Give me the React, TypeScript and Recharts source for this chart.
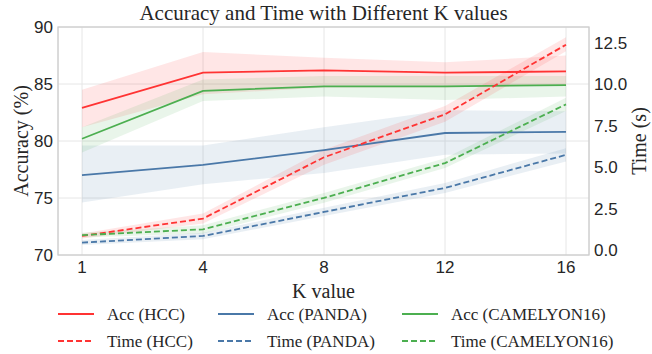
import React from 'react';
import { ComposedChart, Line, Area, XAxis, YAxis, CartesianGrid } from 'recharts';

// K values on the x axis
const kValues = [1, 4, 8, 12, 16];

// accuracy (%) - left axis
const accHcc = [82.9, 86.0, 86.2, 86.0, 86.1];
const accHccLo = [81.2, 84.1, 84.7, 84.7, 84.9];
const accHccHi = [84.5, 87.8, 87.3, 86.9, 87.5];

const accPanda = [77.0, 77.9, 79.2, 80.7, 80.8];
const accPandaLo = [74.6, 76.2, 77.2, 78.8, 78.9];
const accPandaHi = [79.6, 79.6, 81.2, 82.7, 82.6];

const accCam = [80.2, 84.4, 84.8, 84.8, 84.9];
const accCamLo = [79.0, 83.5, 83.9, 83.6, 83.9];
const accCamHi = [81.2, 85.4, 85.7, 85.7, 85.7];

// time (s) - right axis
const timeHcc = [0.85, 1.9, 5.6, 8.2, 12.4];
const timeHccLo = [0.7, 1.6, 5.15, 7.75, 12.0];
const timeHccHi = [1.0, 2.2, 6.05, 8.7, 12.85];

const timePanda = [0.45, 0.85, 2.3, 3.75, 5.75];
const timePandaLo = [0.3, 0.65, 2.05, 3.45, 5.35];
const timePandaHi = [0.6, 1.05, 2.55, 4.05, 6.15];

const timeCam = [0.9, 1.25, 3.15, 5.25, 8.8];
const timeCamLo = [0.75, 1.0, 2.85, 4.95, 8.4];
const timeCamHi = [1.05, 1.5, 3.45, 5.55, 9.2];

const accTicks = [70, 75, 80, 85, 90];
const timeTicks = [0, 2.5, 5, 7.5, 10, 12.5];

const RED = '#ff3333';
const BLUE = '#4a78a8';
const GREEN = '#4caf50';

const data = kValues.map((k, i) => ({
  k,
  accHcc: accHcc[i],
  accHccBand: [accHccLo[i], accHccHi[i]],
  accPanda: accPanda[i],
  accPandaBand: [accPandaLo[i], accPandaHi[i]],
  accCam: accCam[i],
  accCamBand: [accCamLo[i], accCamHi[i]],
  timeHcc: timeHcc[i],
  timeHccBand: [timeHccLo[i], timeHccHi[i]],
  timePanda: timePanda[i],
  timePandaBand: [timePandaLo[i], timePandaHi[i]],
  timeCam: timeCam[i],
  timeCamBand: [timeCamLo[i], timeCamHi[i]],
}));

const series = [
  { key: 'accHcc', name: 'Acc (HCC)', color: RED, axis: 'left', dashed: false },
  { key: 'accPanda', name: 'Acc (PANDA)', color: BLUE, axis: 'left', dashed: false },
  { key: 'accCam', name: 'Acc (CAMELYON16)', color: GREEN, axis: 'left', dashed: false },
  { key: 'timeHcc', name: 'Time (HCC)', color: RED, axis: 'right', dashed: true },
  { key: 'timePanda', name: 'Time (PANDA)', color: BLUE, axis: 'right', dashed: true },
  { key: 'timeCam', name: 'Time (CAMELYON16)', color: GREEN, axis: 'right', dashed: true },
];

const SANS = '"Liberation Sans", Arial, sans-serif';
const SERIF = '"Liberation Serif", "Times New Roman", serif';
const tickStyle = { fontFamily: SANS, fontSize: 17, fill: '#262626' };

const legendCols = [58, 218, 402];
const legendRows = [314, 341];

const App = () => {
  return (
    <div style={{ position: 'absolute', left: 0, top: 0, width: 652, height: 354, background: '#fff' }}>
      <ComposedChart
        width={652}
        height={354}
        data={data}
        margin={{ top: 27, right: 0, bottom: 0, left: 0 }}
      >
        <CartesianGrid yAxisId="left" stroke="#e6e6e6" strokeWidth={1} />
        <XAxis
          dataKey="k"
          type="category"
          scale="point"
          padding={{ left: 24, right: 23 }}
          height={99}
          axisLine={false}
          tickLine={false}
          tickSize={0}
          tickMargin={6}
          tick={tickStyle}
        />
        <YAxis
          yAxisId="left"
          domain={[70, 90]}
          ticks={accTicks}
          width={58}
          axisLine={false}
          tickLine={false}
          tickSize={0}
          tickMargin={5}
          tick={tickStyle}
          interval={0}
        />
        <YAxis
          yAxisId="right"
          orientation="right"
          domain={[-0.3, 13.47]}
          ticks={timeTicks}
          width={63}
          axisLine={false}
          tickLine={false}
          tickSize={0}
          tickMargin={5}
          tick={tickStyle}
          interval={0}
          tickFormatter={(v: number) => v.toFixed(1)}
        />
        {series.map(s => (
          <Area
            key={s.key + 'Band'}
            yAxisId={s.axis}
            dataKey={s.key + 'Band'}
            type="linear"
            stroke="none"
            fill={s.color}
            fillOpacity={0.12}
            isAnimationActive={false}
            activeDot={false}
          />
        ))}
        {series.map(s => (
          <Line
            key={s.key}
            yAxisId={s.axis}
            dataKey={s.key}
            type="linear"
            stroke={s.color}
            strokeWidth={1.8}
            strokeDasharray={s.dashed ? '6 3' : undefined}
            dot={false}
            activeDot={false}
            isAnimationActive={false}
          />
        ))}
      </ComposedChart>
      <svg
        width={652}
        height={354}
        style={{ position: 'absolute', left: 0, top: 0, pointerEvents: 'none' }}
      >
        <rect x={58} y={27} width={531} height={228} fill="none" stroke="#cccccc" strokeWidth={1.25} />
        <text x={323.5} y={20} textAnchor="middle" fontFamily={SERIF} fontSize={21} fill="#262626">
          Accuracy and Time with Different K values
        </text>
        <text x={323.5} y={298} textAnchor="middle" fontFamily={SERIF} fontSize={20} fill="#262626">
          K value
        </text>
        <text
          x={21}
          y={141}
          textAnchor="middle"
          dominantBaseline="central"
          transform="rotate(-90 21 141)"
          fontFamily={SERIF}
          fontSize={20}
          fill="#262626"
        >
          Accuracy (%)
        </text>
        <text
          x={639}
          y={141}
          textAnchor="middle"
          dominantBaseline="central"
          transform="rotate(-90 639 141)"
          fontFamily={SERIF}
          fontSize={20}
          fill="#262626"
        >
          Time (s)
        </text>
        {series.map((s, i) => {
          const col = i % 3;
          const row = Math.floor(i / 3);
          const x = legendCols[col];
          const y = legendRows[row];
          return (
            <g key={s.key + 'Legend'}>
              <line
                x1={x}
                x2={x + 36}
                y1={y}
                y2={y}
                stroke={s.color}
                strokeWidth={1.8}
                strokeDasharray={s.dashed ? '6 3' : undefined}
              />
              <text x={x + 49} y={y} dominantBaseline="central" fontFamily={SERIF} fontSize={17} fill="#262626">
                {s.name}
              </text>
            </g>
          );
        })}
      </svg>
    </div>
  );
};

export default App;
